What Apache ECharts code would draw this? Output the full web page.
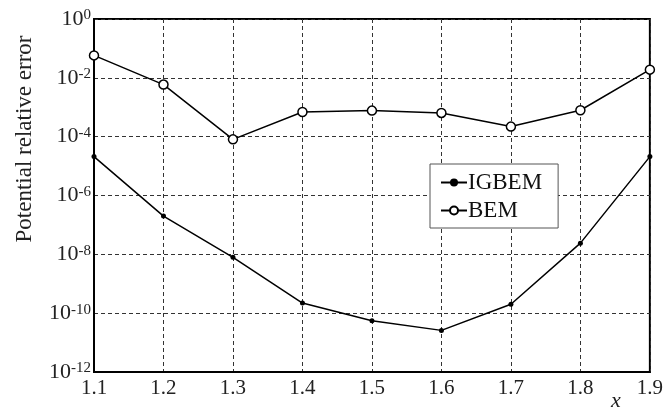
<!DOCTYPE html>
<html>
<head>
  <meta charset="utf-8">
  <script src="https://cdn.jsdelivr.net/npm/echarts@6/dist/echarts.min.js"></script>
  <style>
    html, body { margin: 0; background: #fff; }
    #main { width: 666px; height: 410px; }
  </style>
</head>
<body>
  <div id="main"></div>
  <script>
    // x positions
    var xValues = [1.1, 1.2, 1.3, 1.4, 1.5, 1.6, 1.7, 1.8, 1.9];
    // potential relative error
    var igbem = [2.1e-5, 2.0e-7, 7.9e-9, 2.2e-10, 5.5e-11, 2.6e-11, 2.0e-10, 2.4e-8, 2.1e-5];
    var bem = [5.8e-2, 5.9e-3, 8.1e-5, 6.9e-4, 7.7e-4, 6.4e-4, 2.2e-4, 7.9e-4, 1.9e-2];
    var xTicks = ['1.1', '1.2', '1.3', '1.4', '1.5', '1.6', '1.7', '1.8', '1.9'];

    function pairs(ys) {
      var out = [];
      for (var i = 0; i < xValues.length; i++) out.push([xValues[i], ys[i]]);
      return out;
    }

    var font = '"Liberation Serif", "DejaVu Serif", serif';
    var chart = echarts.init(document.getElementById('main'));

    var option = {
      animation: false,
      textStyle: { fontFamily: font, color: '#000' },
      grid: {
        left: 94, right: 15, top: 19, bottom: 38,
        show: true, borderColor: '#000', borderWidth: 2, backgroundColor: 'transparent'
      },
      legend: {
        orient: 'vertical',
        left: 430, top: 164,
        padding: [7, 16, 6, 10],
        itemGap: 5,
        itemWidth: 26, itemHeight: 10,
        borderColor: '#555', borderWidth: 1,
        backgroundColor: '#fff',
        textStyle: { fontFamily: font, fontSize: 23, color: '#111', padding: [0, 0, 0, -4] },
        data: ['IGBEM', 'BEM']
      },
      xAxis: {
        type: 'value',
        min: 1.1, max: 1.9, interval: 0.1,
        axisLine: { show: true, lineStyle: { color: '#000', width: 2 } },
        axisTick: { show: false },
        axisLabel: {
          fontSize: 21, fontFamily: font, color: '#222', margin: 6,
          formatter: function (v) {
            var i = Math.round((v - 1.1) * 10);
            return xTicks[i] !== undefined ? xTicks[i] : '';
          }
        },
        splitLine: { show: true, lineStyle: { color: '#333', width: 1, type: [4, 3] } }
      },
      yAxis: {
        type: 'log',
        logBase: 10,
        min: 1e-12, max: 1,
        interval: 2,
        axisLine: { show: true, lineStyle: { color: '#000', width: 2 } },
        axisTick: { show: false },
        axisLabel: {
          margin: 3,
          formatter: function (v) {
            var e = Math.round(Math.log10(v));
            return '{b|10}{s|' + e + '}';
          },
          rich: {
            b: { fontSize: 22, fontFamily: font, color: '#222', verticalAlign: 'bottom', lineHeight: 22 },
            s: { fontSize: 15, fontFamily: font, color: '#222', verticalAlign: 'top', lineHeight: 22, padding: [0, 0, 9, 0] }
          }
        },
        splitLine: { show: true, lineStyle: { color: '#333', width: 1, type: [4, 3] } }
      },
      graphic: [{
        type: 'text',
        x: 25, y: 139,
        rotation: Math.PI / 2,
        style: {
          text: 'Potential relative error', fontFamily: font, fontSize: 23, fill: '#222',
          align: 'center', verticalAlign: 'middle'
        }
      }, {
        type: 'text',
        left: 611, top: 390,
        style: { text: 'x', fontFamily: font, fontStyle: 'italic', fontSize: 22, fill: '#222' }
      }],
      series: [{
        name: 'IGBEM',
        type: 'line',
        data: pairs(igbem),
        symbol: 'circle',
        symbolSize: 5,
        lineStyle: { color: '#000', width: 1.5 },
        itemStyle: { color: '#000' }
      }, {
        name: 'BEM',
        type: 'line',
        data: pairs(bem),
        symbol: 'circle',
        symbolSize: 9,
        showAllSymbol: true,
        lineStyle: { color: '#000', width: 1.5 },
        itemStyle: { color: '#fff', borderColor: '#000', borderWidth: 1.5 }
      }]
    };

    chart.setOption(option);
  </script>
</body>
</html>
